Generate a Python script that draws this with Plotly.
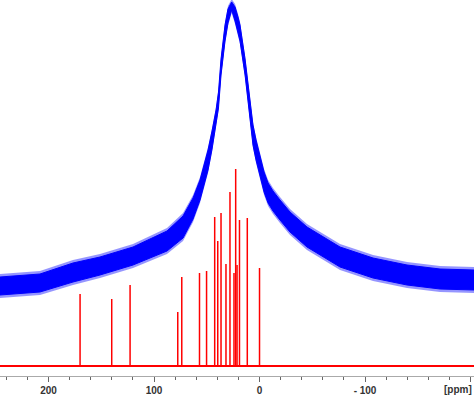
import plotly.graph_objects as go

# Broad (blue) spectrum: noise band (upper / lower envelope)
blue_ppm = [246.0, 208.1, 176.8, 151.2, 119.9, 87.7, 72.5, 63.0, 56.4, 51.7, 48.8, 45.0,
            41.2, 38.9, 36.5, 32.7, 29.9, 26.4, 23.2, 20.4, 18.5, 13.7, 10.0, 8.1, 6.2,
            3.3, -0.5, -4.3, -8.1, -12.8, -19.4, -28.9, -45.0, -76.3, -107.6, -139.8,
            -171.1, -203.3]
blue_upper = [89, 92, 103, 109, 119, 135, 150, 168, 186, 203, 216, 235,
              256, 274, 307, 341, 357, 364, 359, 349, 341, 307, 274, 255, 241,
              226, 211, 194, 183, 175, 166, 154, 139, 119, 108, 101,
              97, 96]
blue_lower = [71, 74, 84, 91, 101, 115, 128, 147, 166, 185, 196, 217,
              240, 258, 291, 325, 343, 356, 345, 333, 325, 291, 258, 237, 221,
              206, 191, 174, 163, 155, 146, 134, 119, 99, 88, 81,
              77, 76]
fringe = 3  # faint spikes outside the dense band

# Stick (red) spectrum
stick_ppm = [170.1, 140.1, 122.7, 77.5, 73.7, 56.9, 50.2, 42.5, 39.6, 36.5, 31.8,
             28.0, 24.2, 22.6, 21.3, 19.0, 11.6, 0.0]
stick_int = [72, 67, 81, 54, 89, 93, 95, 149, 125, 153, 102,
             174, 93, 197, 101, 146, 148, 98]

x_range = [246.0, -203.3]
tick_vals = [200, 100, 0, -100, -200]
tick_text = ["200", "100", "0", "- 100", ""]

fig = go.Figure()

# faint outer fringe
fig.add_trace(go.Scatter(x=blue_ppm, y=[v - fringe for v in blue_lower], mode="lines",
                         line=dict(color="rgba(0,0,255,0)", width=0), showlegend=False,
                         hoverinfo="skip"))
fig.add_trace(go.Scatter(x=blue_ppm, y=[v + fringe for v in blue_upper], mode="lines",
                         fill="tonexty", fillcolor="rgba(20,20,255,0.45)",
                         line=dict(color="rgba(0,0,255,0)", width=0), showlegend=False,
                         hoverinfo="skip"))
# dense band
fig.add_trace(go.Scatter(x=blue_ppm, y=blue_lower, mode="lines",
                         line=dict(color="#0000ff", width=1), showlegend=False,
                         hoverinfo="skip"))
fig.add_trace(go.Scatter(x=blue_ppm, y=blue_upper, mode="lines", fill="tonexty",
                         fillcolor="#0000ff",
                         line=dict(color="#0000ff", width=1), showlegend=False,
                         hoverinfo="skip"))

sx, sy = [], []
for p, h in zip(stick_ppm, stick_int):
    sx += [p, p, None]
    sy += [0, h, None]
fig.add_trace(go.Scatter(x=sx, y=sy, mode="lines",
                         line=dict(color="#ff0000", width=1.5), showlegend=False))
fig.add_trace(go.Scatter(x=x_range, y=[0, 0], mode="lines",
                         line=dict(color="#ff0000", width=2), showlegend=False))

fig.update_layout(
    width=474, height=395,
    margin=dict(l=0, r=0, t=0, b=19),
    paper_bgcolor="white", plot_bgcolor="white",
    xaxis=dict(range=x_range, showgrid=False, zeroline=False,
               showline=True, linecolor="#aaaaaa", linewidth=1,
               ticks="outside", ticklen=5, tickcolor="#666666",
               tickmode="array", tickvals=tick_vals, ticktext=tick_text,
               tickfont=dict(family="Arial, Liberation Sans", size=10,
                             color="#333333", weight="bold"),
               minor=dict(ticks="outside", ticklen=3, tickcolor="#666666",
                          tick0=0, dtick=20, showgrid=False)),
    yaxis=dict(range=[-10, 366], visible=False),
    annotations=[dict(text="[ppm]", x=1, xref="paper", xanchor="right",
                      y=-6, yref="y", yanchor="top", showarrow=False,
                      yshift=-10,
                      font=dict(family="Arial, Liberation Sans", size=10,
                                color="#333333", weight="bold"))],
)

fig.write_html("out.html", config={"displayModeBar": False},
               post_script="document.body.style.margin='0';document.body.style.padding='0';")
